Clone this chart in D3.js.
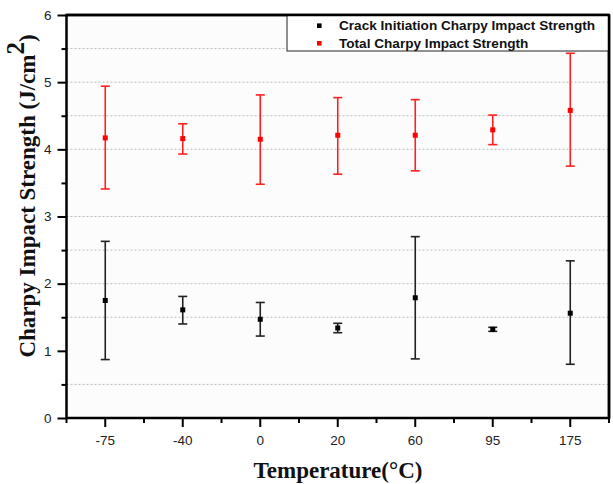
<!DOCTYPE html>
<html><head><meta charset="utf-8">
<script src="https://cdn.jsdelivr.net/npm/d3@7/dist/d3.min.js"></script>
<style>
html,body{margin:0;padding:0;background:#fff;}
svg{display:block;}
</style></head>
<body>
<script>
const categories = ["-75","-40","0","20","60","95","175"];
const crackMean = [1.75,1.61,1.47,1.34,1.79,1.32,1.56];
const crackLow  = [0.87,1.40,1.22,1.27,0.88,1.29,0.80];
const crackHigh = [2.63,1.81,1.72,1.41,2.70,1.35,2.34];
const totalMean = [4.17,4.16,4.15,4.21,4.21,4.29,4.58];
const totalLow  = [3.41,3.93,3.48,3.63,3.68,4.07,3.75];
const totalHigh = [4.94,4.38,4.81,4.77,4.74,4.51,5.43];
const yMajorTicks = [0,1,2,3,4,5,6];
const yMinorTicks = [0.5,1.5,2.5,3.5,4.5,5.5];
const gridValues = [0.5,1.5,2,2.5,3,4,4.5,5,5.5];
const seriesNames = ["Crack Initiation Charpy Impact Strength","Total Charpy Impact Strength"];

const W=613,H=484;
const L=66.5,R=609,T=15,B=418;
const svg=d3.select("body").append("svg").attr("width",W).attr("height",H);

const x=d3.scaleBand().domain(categories).range([L,R]).padding(0);
const y=d3.scaleLinear().domain([0,6]).range([B,T]);
const cx=c=>x(c)+x.bandwidth()/2;

svg.append("rect").attr("x",L).attr("y",T).attr("width",R-L).attr("height",B-T).attr("fill","#fcfcfc");

svg.append("g").selectAll("line").data(gridValues).join("line")
  .attr("x1",L).attr("x2",R).attr("y1",d=>y(d)).attr("y2",d=>y(d))
  .attr("stroke","#b8bcbc").attr("stroke-width",1).attr("stroke-dasharray","2,2");

const fontSans="'Liberation Sans', Arial, sans-serif";
const yAx=svg.append("g").attr("transform",`translate(${L},0)`)
  .call(d3.axisLeft(y).tickValues(yMajorTicks).tickSize(9).tickPadding(6).tickFormat(d3.format("d")));
yAx.select(".domain").remove();
yAx.selectAll("line").attr("stroke","#000").attr("stroke-width",2);
yAx.selectAll("text").attr("font-family",fontSans).attr("font-size",13.5).attr("fill","#222");
const yMin=svg.append("g").attr("transform",`translate(${L},0)`)
  .call(d3.axisLeft(y).tickValues(yMinorTicks).tickSize(5).tickFormat(""));
yMin.select(".domain").remove();
yMin.selectAll("line").attr("stroke","#000").attr("stroke-width",2);

const xAx=svg.append("g").attr("transform",`translate(0,${B})`)
  .call(d3.axisBottom(x).tickSize(9).tickPadding(8));
xAx.select(".domain").remove();
xAx.selectAll("line").attr("stroke","#000").attr("stroke-width",2);
xAx.selectAll("text").attr("font-family",fontSans).attr("font-size",13.5).attr("fill","#222");
const edges=categories.map(c=>x(c)).concat([x.range()[1]]);
svg.append("g").selectAll("line").data(edges).join("line")
  .attr("x1",d=>d).attr("x2",d=>d).attr("y1",B).attr("y2",B+5)
  .attr("stroke","#000").attr("stroke-width",2);

svg.append("rect").attr("x",L).attr("y",T).attr("width",R-L).attr("height",B-T)
  .attr("fill","none").attr("stroke","#000").attr("stroke-width",2.5);

function drawSeries(mean,low,high,color,lineColor){
  const g=svg.append("g");
  const capW=4.5;
  categories.forEach((c,i)=>{
    const px=cx(c);
    g.append("line").attr("x1",px).attr("x2",px).attr("y1",y(low[i])).attr("y2",y(high[i]))
      .attr("stroke",lineColor).attr("stroke-width",1.6);
    [low[i],high[i]].forEach(v=>{
      g.append("line").attr("x1",px-capW).attr("x2",px+capW).attr("y1",y(v)).attr("y2",y(v))
        .attr("stroke",lineColor).attr("stroke-width",1.6);
    });
  });
  g.selectAll("rect").data(mean).join("rect")
    .attr("x",(d,i)=>cx(categories[i])-2.5).attr("y",d=>y(d)-2.5)
    .attr("width",5).attr("height",5).attr("fill",color);
}
drawSeries(crackMean,crackLow,crackHigh,"#000","#222");
drawSeries(totalMean,totalLow,totalHigh,"#ff0000","#ff2020");

const lg=svg.append("g");
lg.append("rect").attr("x",287).attr("y",T).attr("width",R-287).attr("height",51-T)
  .attr("fill","#fff").attr("stroke","#222").attr("stroke-width",1);
const legColors=["#000","#ff0000"];
const legY=[25.7,43.3];
seriesNames.forEach((n,i)=>{
  lg.append("rect").attr("x",319.3-2.3).attr("y",legY[i]-2.3).attr("width",4.6).attr("height",4.6).attr("fill",legColors[i]);
  lg.append("text").attr("x",339).attr("y",legY[i]+4.5).text(n)
    .attr("font-family",fontSans).attr("font-weight","bold").attr("font-size",13.6).attr("fill","#111");
});
svg.append("line").attr("x1",L).attr("x2",R).attr("y1",T).attr("y2",T).attr("stroke","#000").attr("stroke-width",2.5);
svg.append("line").attr("x1",R).attr("x2",R).attr("y1",T).attr("y2",B).attr("stroke","#000").attr("stroke-width",2.5);

const fontSerif="'Liberation Serif', 'Times New Roman', serif";
svg.append("text").attr("x",338).attr("y",478).attr("text-anchor","middle")
  .attr("font-family",fontSerif).attr("font-weight","bold").attr("font-size",23).attr("fill","#111")
  .text("Temperature(°C)");
const yt=svg.append("text").attr("transform","translate(35,196) rotate(-90)").attr("text-anchor","middle")
  .attr("font-family",fontSerif).attr("font-weight","bold").attr("font-size",23).attr("fill","#111");
yt.append("tspan").text("Charpy Impact Strength (J/cm");
yt.append("tspan").attr("dy",-11).attr("font-size",25).text("2");
yt.append("tspan").attr("dy",11).text(")");
</script>
</body></html>
